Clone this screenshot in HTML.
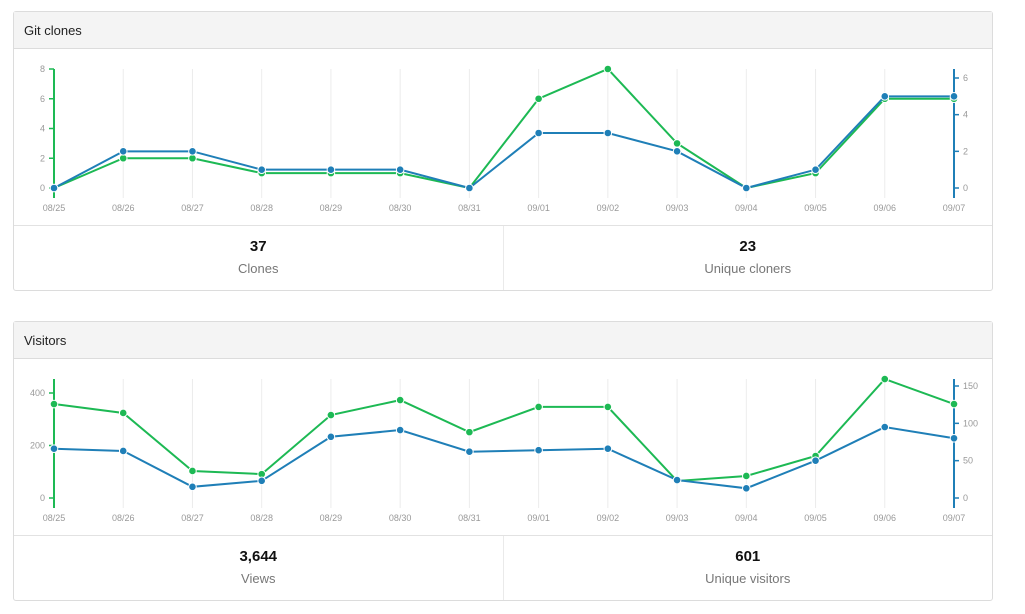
<!DOCTYPE html>
<html><head><meta charset="utf-8"><style>
html,body{margin:0;padding:0;background:#fff;width:1025px;height:614px;overflow:hidden;font-family:"Liberation Sans",sans-serif;}
.panel{position:absolute;left:13px;width:978px;border:1px solid #dcdcdc;border-radius:3px;background:#fff;}
.hdr{height:36px;background:#f4f4f4;border-bottom:1px solid #dcdcdc;font-size:13px;line-height:37px;padding-left:10px;color:#222;}
.stats{position:absolute;left:0;right:0;bottom:0;height:64px;border-top:1px solid #e2e2e2;display:flex;}
.stat{flex:1;text-align:center;}
.stat+.stat{border-left:1px solid #eaeaea;}
.num{font-weight:bold;font-size:15px;margin-top:12px;color:#111;}
.lbl{font-size:13px;color:#777;margin-top:6px;}
svg{position:absolute;left:0;top:0;}
</style></head><body>
<div class="panel" style="top:11px;height:278px">
 <div class="hdr">Git clones</div>
 <div class="stats">
  <div class="stat"><div class="num">37</div><div class="lbl">Clones</div></div>
  <div class="stat"><div class="num">23</div><div class="lbl">Unique cloners</div></div>
 </div>
</div>
<div class="panel" style="top:321px;height:278px">
 <div class="hdr">Visitors</div>
 <div class="stats">
  <div class="stat"><div class="num">3,644</div><div class="lbl">Views</div></div>
  <div class="stat"><div class="num">601</div><div class="lbl">Unique visitors</div></div>
 </div>
</div>
<svg id="chart" width="1025" height="614"></svg>
<script>
const dates=["08/25","08/26","08/27","08/28","08/29","08/30","08/31","09/01","09/02","09/03","09/04","09/05","09/06","09/07"];
const clones=[0,2,2,1,1,1,0,6,8,3,0,1,6,6];
const uniqueCloners=[0,2,2,1,1,1,0,3,3,2,0,1,5,5];
const clonesTicks=[0,2,4,6,8];
const clonersTicks=[0,2,4,6];
const views=[358,324,103,91,316,373,251,347,347,65,84,160,453,358];
const uniqueVisitors=[66,63,15,23,82,91,62,64,66,24,13,50,95,80];
const viewsTicks=[0,200,400];
const visitorsTicks=[0,50,100,150];

const NS="http://www.w3.org/2000/svg";
const svg=document.getElementById('chart');
const G="#1db954",B="#1f7fb7";
function mk(t,a,p){const e=document.createElementNS(NS,t);for(const k in a)e.setAttribute(k,a[k]);(p||svg).appendChild(e);return e;}
function draw(cfg){
  const g=mk('g',{});
  
  
  const x0=54,x1=954;
  const X=i=>x0+(x1-x0)*i/(dates.length-1);
  const YL=v=>cfg.base-v*cfg.ls;
  const YR=v=>cfg.base-v*cfg.rs;
  dates.forEach((d,i)=>{
    const gl=mk('line',{x1:X(i),x2:X(i),y1:cfg.top,y2:cfg.base+10,stroke:'#ececec','stroke-width':1},g);
    
    
    const t=mk('text',{x:X(i),y:cfg.base+23,'text-anchor':'middle','font-size':9,fill:'#999'},g);
    t.textContent=d;
    
    
  });
  const la=mk('line',{x1:x0,x2:x0,y1:cfg.top,y2:cfg.base+10,stroke:G,'stroke-width':2},g);
  
  
  cfg.lt.forEach(v=>{
    mk('line',{x1:x0-5,x2:x0,y1:YL(v),y2:YL(v),stroke:G,'stroke-width':1.5},g);
    const t=mk('text',{x:x0-9,y:YL(v)+3,'text-anchor':'end','font-size':9,fill:'#999'},g);
    t.textContent=v;
    
    
  });
  const ra=mk('line',{x1:x1,x2:x1,y1:cfg.top,y2:cfg.base+10,stroke:B,'stroke-width':2},g);
  
  
  cfg.rt.forEach(v=>{
    mk('line',{x1:x1,x2:x1+5,y1:YR(v),y2:YR(v),stroke:B,'stroke-width':1.5},g);
    const t=mk('text',{x:x1+9,y:YR(v)+3,'text-anchor':'start','font-size':9,fill:'#999'},g);
    t.textContent=v;
    
    
  });
  [[cfg.l,YL,G,cfg.lname],[cfg.r,YR,B,cfg.rname]].forEach(([arr,Y,c,n])=>{
    const p=mk('polyline',{points:arr.map((v,i)=>X(i)+','+Y(v)).join(' '),fill:'none',stroke:c,'stroke-width':2},g);
    
    
    arr.forEach((v,i)=>{
      const ci=mk('circle',{cx:X(i),cy:Y(v),r:3.8,fill:c,stroke:'#fff','stroke-width':1},g);
      
      
    });
  });
}
draw({name:'clones-chart',top:69,base:188,ls:119/8,rs:110/6,lt:clonesTicks,rt:clonersTicks,l:clones,r:uniqueCloners,lname:'clones',rname:'unique-cloners'});
draw({name:'visitors-chart',top:379,base:498,ls:105/400,rs:112/150,lt:viewsTicks,rt:visitorsTicks,l:views,r:uniqueVisitors,lname:'views',rname:'unique-visitors'});
</script>
</body></html>
